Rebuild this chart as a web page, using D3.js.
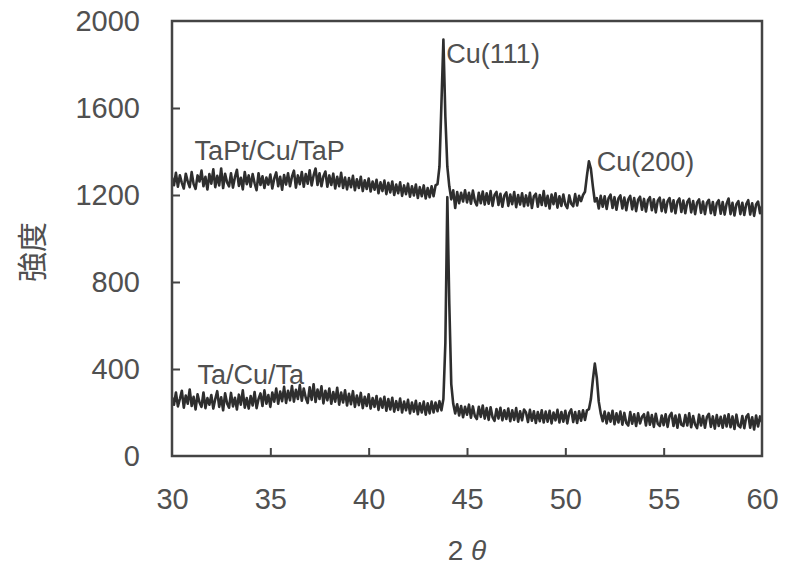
<!DOCTYPE html>
<html>
<head>
<meta charset="utf-8">
<script src="https://cdn.jsdelivr.net/npm/d3@7"></script>
<style>
  html, body { margin: 0; padding: 0; background: #fff; }
  svg text { font-family: "Liberation Sans", Arial, sans-serif; fill: #505050; }
</style>
</head>
<body>
<div id="chart"></div>
<script>
'use strict';

// measurement grid: 30.0 .. 60.0 deg, 0.1 deg step
var angleStart = 30, angleStep = 0.1;

var taptSeries = [
  1280, 1245, 1302, 1238, 1291, 1256, 1230, 1298, 1262, 1236,
  1305, 1250, 1228, 1290, 1262, 1312, 1240, 1284, 1225, 1296,
  1252, 1318, 1236, 1288, 1244, 1322, 1232, 1298, 1258, 1240,
  1300, 1234, 1282, 1316, 1242, 1279, 1226, 1306, 1250, 1290,
  1238, 1296, 1254, 1222, 1300, 1246, 1286, 1232, 1280, 1248,
  1294, 1230, 1276, 1304, 1240, 1284, 1224, 1292, 1248, 1300,
  1240, 1284, 1312, 1234, 1290, 1250, 1306, 1238, 1296, 1252,
  1314, 1244, 1290, 1322, 1246, 1300, 1240, 1286, 1308, 1238,
  1290, 1246, 1298, 1230, 1284, 1240, 1302, 1232, 1280, 1226,
  1278, 1236, 1288, 1222, 1272, 1232, 1284, 1218, 1268, 1228,
  1276, 1216, 1262, 1224, 1270, 1208, 1258, 1218, 1266, 1204,
  1256, 1212, 1262, 1200, 1248, 1208, 1258, 1196, 1244, 1204,
  1252, 1192, 1240, 1198, 1248, 1186, 1236, 1194, 1244, 1184,
  1232, 1190, 1240, 1194, 1244, 1250, 1330, 1620, 1915, 1560,
  1330, 1240, 1180, 1222, 1140, 1214, 1162, 1210, 1170, 1222,
  1166, 1210, 1160, 1220, 1172, 1152, 1210, 1162, 1216, 1156,
  1208, 1160, 1218, 1150, 1200, 1214, 1154, 1206, 1146, 1198,
  1212, 1150, 1202, 1158, 1214, 1144, 1200, 1156, 1208, 1148,
  1198, 1152, 1210, 1140, 1194, 1206, 1146, 1200, 1154, 1218,
  1150, 1196, 1138, 1202, 1158, 1208, 1142, 1194, 1150, 1202,
  1156, 1140, 1198, 1160, 1148, 1204, 1152, 1196, 1172, 1200,
  1215, 1290, 1355, 1320, 1240, 1170, 1186, 1138, 1196, 1146,
  1194, 1136, 1186, 1202, 1140, 1190, 1132, 1184, 1198, 1138,
  1188, 1130, 1180, 1196, 1134, 1186, 1126, 1178, 1192, 1132,
  1182, 1124, 1176, 1190, 1130, 1180, 1120, 1174, 1188, 1126,
  1178, 1120, 1172, 1186, 1124, 1176, 1116, 1170, 1184, 1122,
  1174, 1116, 1168, 1182, 1120, 1172, 1112, 1166, 1180, 1118,
  1170, 1112, 1164, 1178, 1116, 1168, 1108, 1162, 1176, 1114,
  1168, 1110, 1160, 1184, 1112, 1164, 1106, 1158, 1172, 1112,
  1164, 1108, 1158, 1176, 1110, 1162, 1104, 1156, 1170, 1116,
  1150
];

var taSeries = [
  270, 236, 292, 228, 262, 300, 222, 278, 240, 306,
  230, 272, 214, 284, 246, 226, 292, 220, 266, 236,
  280, 218, 262, 298, 226, 270, 210, 288, 242, 222,
  290, 228, 268, 214, 282, 236, 302, 222, 266, 218,
  276, 232, 294, 220, 262, 288, 230, 302, 240, 280,
  226, 292, 250, 310, 240, 296, 252, 318, 244, 300,
  256, 322, 250, 304, 262, 326, 254, 310, 268, 244,
  316, 258, 330, 248, 306, 262, 320, 242, 300, 256,
  310, 240, 294, 250, 314, 236, 292, 246, 302, 232,
  286, 238, 298, 226, 278, 234, 290, 220, 272, 230,
  284, 218, 266, 226, 276, 212, 264, 222, 272, 208,
  262, 214, 268, 204, 252, 212, 264, 200, 250, 210,
  258, 196, 246, 204, 254, 192, 242, 200, 250, 190,
  242, 196, 250, 200, 246, 206, 252, 210, 262, 520,
  1190, 700, 330, 240, 196, 238, 186, 230, 178, 226,
  190, 236, 176, 228, 184, 170, 226, 180, 232, 172,
  220, 166, 224, 178, 162, 216, 172, 222, 164, 210,
  170, 218, 160, 210, 166, 220, 158, 206, 164, 214,
  200, 156, 212, 162, 206, 152, 202, 160, 210, 154,
  204, 158, 208, 150, 200, 164, 212, 154, 202, 158,
  208, 150, 198, 214, 156, 202, 152, 206, 162, 210,
  166, 210, 215, 262, 350, 425, 360, 250, 196, 160,
  204, 150, 198, 158, 208, 146, 196, 154, 204, 144,
  198, 152, 140, 202, 148, 192, 138, 196, 150, 180,
  192, 140, 200, 144, 188, 134, 194, 148, 138, 186,
  142, 192, 134, 184, 198, 138, 186, 130, 190, 144,
  138, 188, 140, 196, 132, 184, 144, 128, 190, 140,
  184, 130, 180, 194, 134, 182, 126, 188, 138, 180,
  130, 186, 136, 192, 132, 182, 124, 190, 140, 132,
  184, 128, 180, 192, 130, 178, 122, 186, 136, 182,
  156
];

var xTicks = [30, 35, 40, 45, 50, 55, 60];
var yTicks = [0, 400, 800, 1200, 1600, 2000];

var labels = [
  { text: 'TaPt/Cu/TaP', x: 31.15, y: 1362 },
  { text: 'Ta/Cu/Ta', x: 31.3, y: 330 },
  { text: 'Cu(111)', x: 43.95, y: 1808 },
  { text: 'Cu(200)', x: 51.6, y: 1312 }
];

var width = 786, height = 574;
var margin = { top: 21, right: 24, bottom: 118, left: 172 };

var x = d3.scaleLinear().domain([30, 60])
          .range([margin.left, width - margin.right]);
var y = d3.scaleLinear().domain([0, 2000])
          .range([height - margin.bottom, margin.top]);

var svg = d3.select('#chart').append('svg')
            .attr('width', width)
            .attr('height', height);

svg.append('clipPath').attr('id', 'plotclip')
   .append('rect')
   .attr('x', x(30)).attr('y', y(2000))
   .attr('width', x(60) - x(30)).attr('height', y(0) - y(2000));

function toPoints (series)	{
  return series.map(function (v, i) {
    return { a: angleStart + i * angleStep, v: v };
  });
}

var line = d3.line()
  .x(function (d) { return x(d.a); })
  .y(function (d) { return y(d.v); });

var plot = svg.append('g').attr('clip-path', 'url(#plotclip)');

[taptSeries, taSeries].forEach(function (s) {
  plot.append('path')
      .datum(toPoints(s))
      .attr('fill', 'none')
      .attr('stroke', '#2e2e2e')
      .attr('stroke-width', 2.6)
      .attr('stroke-linejoin', 'round')
      .attr('d', line);
});

// axes, ticks pointing inward
var xAxis = d3.axisBottom(x).tickValues(xTicks)
              .tickSize(-8).tickPadding(32)
              .tickFormat(d3.format('d'));
var yAxis = d3.axisLeft(y).tickValues(yTicks)
              .tickSize(-8).tickPadding(32)
              .tickFormat(d3.format('d'));

var gx = svg.append('g')
  .attr('transform', 'translate(0,' + y(0) + ')')
  .call(xAxis);
var gy = svg.append('g')
  .attr('transform', 'translate(' + x(30) + ',0)')
  .call(yAxis);

[gx, gy].forEach(function (g) {
  g.select('.domain').remove();
  g.selectAll('.tick line').attr('stroke', '#444').attr('stroke-width', 2);
  g.selectAll('.tick text').attr('font-size', 29).attr('fill', '#505050');
});
gx.selectAll('.tick').filter(function (d) { return d === 30 || d === 60; })
  .select('line').remove();
gy.selectAll('.tick').filter(function (d) { return d === 0 || d === 2000; })
  .select('line').remove();

svg.append('rect')
   .attr('x', x(30)).attr('y', y(2000))
   .attr('width', x(60) - x(30)).attr('height', y(0) - y(2000))
   .attr('fill', 'none')
   .attr('stroke', '#444')
   .attr('stroke-width', 2.5);

svg.selectAll('text.lbl')
   .data(labels)
   .enter().append('text')
   .attr('class', 'lbl')
   .attr('x', function (d) { return x(d.x); })
   .attr('y', function (d) { return y(d.y); })
   .attr('font-size', 27)
   .text(function (d) { return d.text; });

// axis titles
var xt = svg.append('text')
   .attr('x', x(45))
   .attr('y', 560)
   .attr('text-anchor', 'middle')
   .attr('font-size', 28);
xt.append('tspan').text('2 ');
xt.append('tspan').attr('font-style', 'italic').text('θ');

svg.append('text')
   .attr('transform', 'translate(43,' + y(938) + ') rotate(-90)')
   .attr('text-anchor', 'middle')
   .attr('font-size', 30)
   .style('font-family', '"Noto Sans CJK JP", "Noto Sans CJK SC", sans-serif')
   .text('強度');
</script>
</body>
</html>
